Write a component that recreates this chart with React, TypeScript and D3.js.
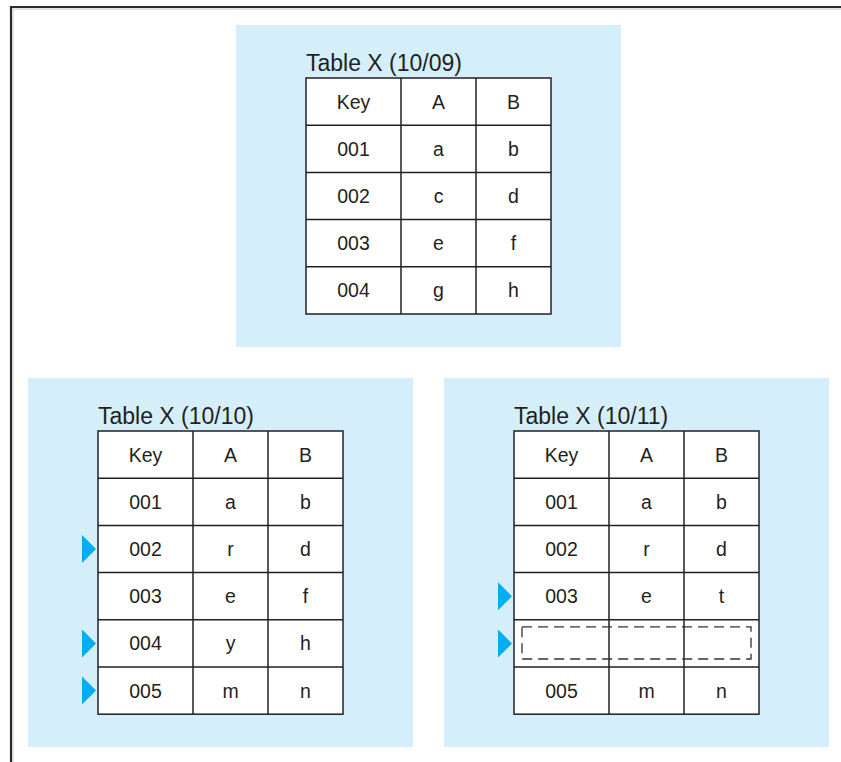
import { useRef, useEffect } from 'react';
import { select, scaleBand, cumsum } from 'd3';

const columns = ['Key', 'A', 'B'];
const columnWidths = [95, 75, 75];

const titles = ['Table X (10/09)', 'Table X (10/10)', 'Table X (10/11)'];

const rows0910 = [
  ['001', 'a', 'b'],
  ['002', 'c', 'd'],
  ['003', 'e', 'f'],
  ['004', 'g', 'h'],
];
const rows1010 = [
  ['001', 'a', 'b'],
  ['002', 'r', 'd'],
  ['003', 'e', 'f'],
  ['004', 'y', 'h'],
  ['005', 'm', 'n'],
];
// null = row deleted on 10/11
const rows1011 = [
  ['001', 'a', 'b'],
  ['002', 'r', 'd'],
  ['003', 'e', 't'],
  null,
  ['005', 'm', 'n'],
];

// data rows that changed since the previous version
const changed0910: number[] = [];
const changed1010 = [1, 3, 4];
const changed1011 = [2, 3];

const W = 841;
const H = 762;
const ROW_H = 47.2;
const FILL = '#d4eefa';
const INK = '#231f20';
const ARROW = '#00aeef';
const FONT = '"Liberation Sans", Arial, sans-serif';

type Panel = {
  title: string;
  rows: (string[] | null)[];
  changed: number[];
  box: [number, number, number, number];
  origin: [number, number];
};

const panels: Panel[] = [
  { title: titles[0], rows: rows0910, changed: changed0910, box: [236, 25, 385, 322], origin: [306, 78] },
  { title: titles[1], rows: rows1010, changed: changed1010, box: [28, 378, 385, 369], origin: [98, 431] },
  { title: titles[2], rows: rows1011, changed: changed1011, box: [444, 378, 385, 369], origin: [514, 431] },
];

const App = () => {
  const ref = useRef<SVGSVGElement>(null);

  useEffect(() => {
    if (!ref.current) return;
    const svg = select(ref.current);
    svg.selectAll('*').remove();

    // outer frame
    svg.append('path')
      .attr('d', `M11,${H} V7 H${W}`)
      .attr('fill', 'none')
      .attr('stroke', '#2b2b2b')
      .attr('stroke-width', 2.2);
    svg.append('path')
      .attr('d', `M13,${H} V9 H${W}`)
      .attr('fill', 'none')
      .attr('stroke', '#c8c8c8')
      .attr('stroke-width', 1);

    const edges = [0, ...cumsum(columnWidths)];
    const tableW = edges[edges.length - 1];

    panels.forEach((p) => {
      const [bx, by, bw, bh] = p.box;
      const [ox, oy] = p.origin;
      svg.append('rect')
        .attr('x', bx).attr('y', by)
        .attr('width', bw).attr('height', bh)
        .attr('fill', FILL);

      const g = svg.append('g').attr('transform', `translate(${ox},${oy})`);
      const nRows = p.rows.length + 1;
      const y = scaleBand<number>()
        .domain(Array.from({ length: nRows }, (_, i) => i))
        .range([0, nRows * ROW_H]);
      const tableH = nRows * ROW_H;

      g.append('text')
        .attr('x', 0).attr('y', -7.5)
        .attr('font-family', FONT)
        .attr('font-size', 23)
        .attr('fill', INK)
        .text(p.title);

      g.append('rect')
        .attr('width', tableW).attr('height', tableH)
        .attr('fill', '#fff');

      const cells: { r: number; c: number; t: string }[] = [];
      columns.forEach((t, c) => cells.push({ r: 0, c, t }));
      p.rows.forEach((row, i) => {
        if (row) row.forEach((t, c) => cells.push({ r: i + 1, c, t }));
      });

      g.selectAll('text.cell')
        .data(cells)
        .join('text')
        .attr('class', 'cell')
        .attr('x', (d) => (edges[d.c] + edges[d.c + 1]) / 2)
        .attr('y', (d) => (y(d.r) ?? 0) + ROW_H / 2)
        .attr('dy', '0.36em')
        .attr('text-anchor', 'middle')
        .attr('font-family', FONT)
        .attr('font-size', 19.5)
        .attr('fill', INK)
        .text((d) => d.t);

      // grid lines
      const lines = g.append('g').attr('stroke', INK).attr('stroke-width', 1.5);
      y.domain().slice(1).forEach((r) => {
        const yy = y(r) ?? 0;
        lines.append('line').attr('x1', 0).attr('x2', tableW).attr('y1', yy).attr('y2', yy);
      });
      edges.slice(1, -1).forEach((x) => {
        lines.append('line').attr('x1', x).attr('x2', x).attr('y1', 0).attr('y2', tableH);
      });
      lines.append('rect')
        .attr('width', tableW).attr('height', tableH)
        .attr('fill', 'none');

      // deleted rows
      p.rows.forEach((row, i) => {
        if (row) return;
        const yy = y(i + 1) ?? 0;
        g.append('rect')
          .attr('x', 8).attr('y', yy + 7)
          .attr('width', tableW - 16).attr('height', ROW_H - 15)
          .attr('fill', 'none')
          .attr('stroke', '#333')
          .attr('stroke-width', 1.3)
          .attr('stroke-dasharray', '10,6');
      });

      // change markers
      g.selectAll('path.marker')
        .data(p.changed)
        .join('path')
        .attr('class', 'marker')
        .attr('d', (i) => {
          const cy = (y(i + 1) ?? 0) + ROW_H / 2;
          return `M-16,${cy - 14} L-2,${cy} L-16,${cy + 14} Z`;
        })
        .attr('fill', ARROW);
    });
  }, []);

  return (
    <svg
      ref={ref}
      width={W}
      height={H}
      style={{ position: 'absolute', left: 0, top: 0, background: '#fff' }}
    />
  );
};

export default App;
